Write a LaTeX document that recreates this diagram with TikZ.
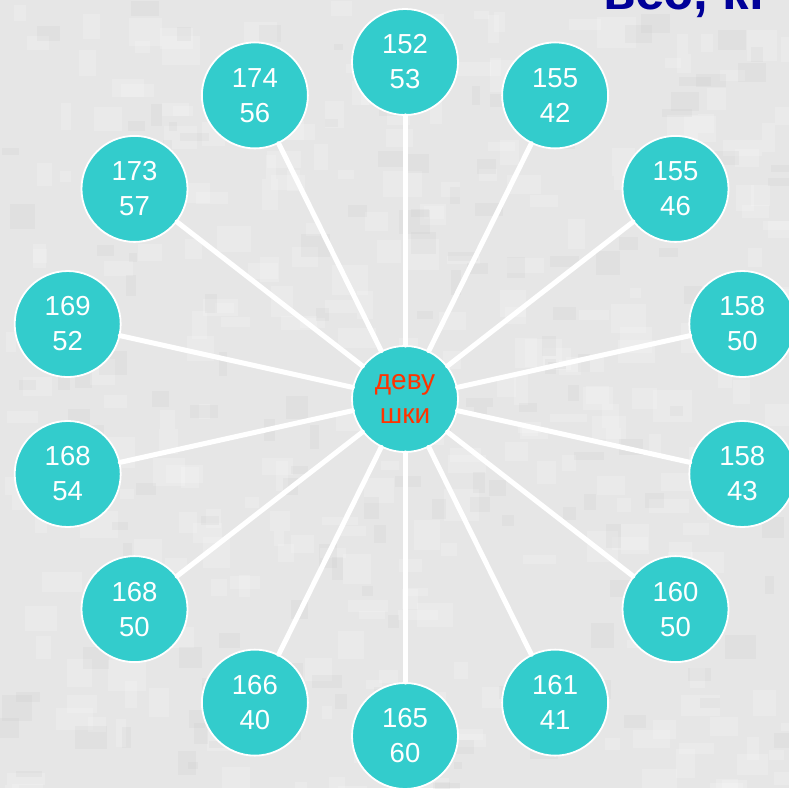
\documentclass[tikz,border=0pt]{standalone}
\usepackage{fontspec}
\setmainfont{Liberation Sans}
\usetikzlibrary{calc}
\definecolor{tealfill}{RGB}{51,204,204}
\definecolor{girlred}{RGB}{255,51,0}
\definecolor{titleblue}{RGB}{0,0,153}
\definecolor{bggray}{RGB}{230,230,230}

\begin{document}
\begin{tikzpicture}[x=1pt,y=-1pt,line cap=round,
  bubble/.style={circle,fill=tealfill,draw=white,line width=1.8pt,minimum size=106pt,inner sep=0pt,
    align=center,text=white,font=\fontsize{27.5}{35}\selectfont},
  spoke/.style={white,line width=5pt}]
  \def\RX{346}
  \def\RY{337}
  % --- frame and mottled background ---
  \useasboundingbox (0,0) rectangle (789,788);
  \fill[bggray] (0,0) rectangle (789,788);
  \pgfmathsetseed{11}
  \foreach \i in {1,...,300}{
    \fill[white,opacity=0.18] ({rnd*789},{rnd*788}) rectangle ++({10+rnd*30},{8+rnd*24});
  }
  \foreach \i in {1,...,160}{
    \fill[black!30,opacity=0.10] ({rnd*789},{rnd*788}) rectangle ++({8+rnd*24},{6+rnd*20});
  }

  % --- title, cut by the top edge ---
  \node[titleblue,font=\bfseries\fontsize{53}{60}\selectfont,anchor=base west,inner sep=0pt] (title) at (603,9) {вес, кг};

  % --- centre ---
  \node[bubble,text=girlred,font=\fontsize{28}{34}\selectfont] (girls) at (405,399) {деву\\шки};

  % --- ring of height / weight pairs ---
  \foreach \h/\w [count=\k from 0] in {152/53,155/42,155/46,158/50,158/43,160/50,161/41,
                                        165/60,166/40,168/50,168/54,169/52,173/57,174/56}{
    \node[bubble] (p\k) at ({405+\RX*sin(\k*360/14)},{399-\RY*cos(\k*360/14)}) {\h\\\w};
    \draw[spoke] (girls) -- (p\k);
  }
\end{tikzpicture}
\end{document}
